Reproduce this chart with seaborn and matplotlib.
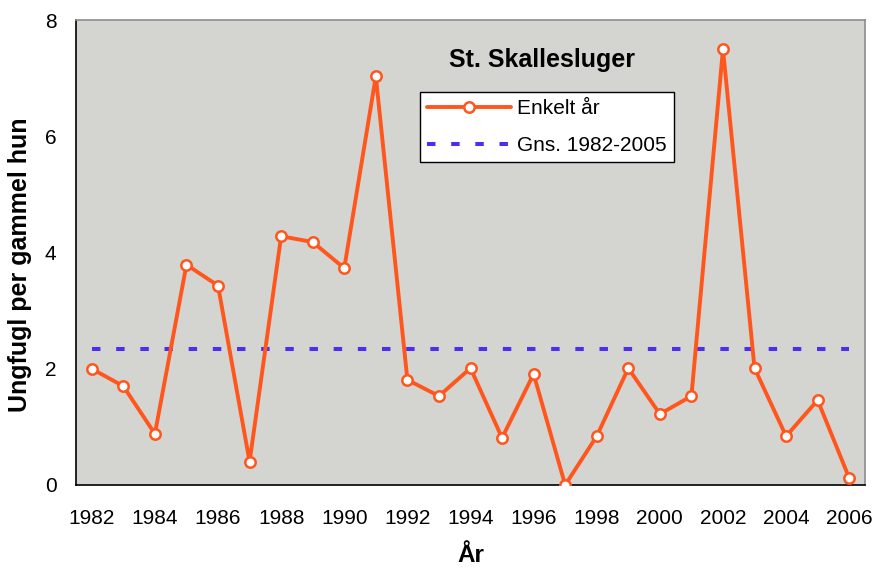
import numpy as np
import pandas as pd
import matplotlib
matplotlib.use('Agg')
import matplotlib.pyplot as plt
import seaborn as sns
from matplotlib.ticker import FixedLocator

# data
years = list(range(1982, 2007))
young_per_female = [2.0, 1.70, 0.88, 3.79, 3.43, 0.40, 4.28, 4.18, 3.73, 7.03,
                    1.81, 1.53, 2.01, 0.81, 1.91, 0.0, 0.84, 2.01, 1.22, 1.53,
                    7.50, 2.01, 0.84, 1.46, 0.12]
avg_1982_2005 = 2.34

df = pd.DataFrame({'year': years, 'value': young_per_female})
df_avg = pd.DataFrame({'year': years, 'value': [avg_1982_2005] * len(years)})

sns.set_style('white')
plt.rcParams['font.family'] = ['Liberation Sans', 'DejaVu Sans']
plt.rcParams['text.color'] = 'black'
plt.rcParams['axes.labelcolor'] = 'black'
plt.rcParams['xtick.color'] = 'black'
plt.rcParams['ytick.color'] = 'black'

fig = plt.figure(figsize=(8.76, 5.71), dpi=100)
ax = fig.add_axes([76 / 876, 1 - 485 / 571, (865 - 76) / 876, (485 - 20) / 571])
ax.set_facecolor('#d4d5d0')

orange = '#ff561e'
blue = '#4b2ff0'

sns.lineplot(data=df, x='year', y='value', ax=ax, color=orange, lw=2.8,
             marker='o', markersize=7.5, markerfacecolor='white',
             markeredgecolor=orange, markeredgewidth=1.8, label='Enkelt år',
             zorder=3)
sns.lineplot(data=df_avg, x='year', y='value', ax=ax, color=blue, lw=2.9,
             label='Gns. 1982-2005', zorder=2)
avg_line = ax.lines[-1]
avg_line.set_linestyle((0, (2.1, 3.9)))
avg_line.set_dash_capstyle('butt')

ax.set_xlim(1981.5, 2006.5)
ax.set_ylim(0, 8)
ax.set_yticks([0, 2, 4, 6, 8])
ax.set_xticks(years[::2])
ax.xaxis.set_minor_locator(FixedLocator(np.arange(1981.5, 2007, 1)))
ax.tick_params(axis='x', which='major', length=0, labelsize=15, pad=17)
ax.tick_params(axis='x', which='minor', length=6, width=1, color='black',
               direction='out')
ax.tick_params(axis='y', length=6, width=1, color='black', direction='out',
               labelsize=15, pad=8)

for side in ['top', 'right']:
    ax.spines[side].set_color('#8c8c8c')
    ax.spines[side].set_linewidth(1.2)
for side in ['left', 'bottom']:
    ax.spines[side].set_color('black')
    ax.spines[side].set_linewidth(1.2)

ax.set_xlabel('År', fontsize=17.5, fontweight='bold', labelpad=12)
ax.set_ylabel('Ungfugl per gammel hun', fontsize=18, fontweight='bold')
ax.yaxis.set_label_coords(-0.056, 0.473)

ax.text(0.591, 0.915, 'St. Skallesluger', transform=ax.transAxes, ha='center',
        va='center', fontsize=18, fontweight='bold')

leg = ax.legend(loc='upper left', bbox_to_anchor=(0.436, 0.845), fontsize=15,
                frameon=True, fancybox=False, edgecolor='black', framealpha=1,
                borderpad=0.35, labelspacing=0.85, handlelength=4.0,
                handletextpad=0.3, borderaxespad=0)
leg.get_frame().set_linewidth(1)

fig.savefig('out.png', dpi=100)
